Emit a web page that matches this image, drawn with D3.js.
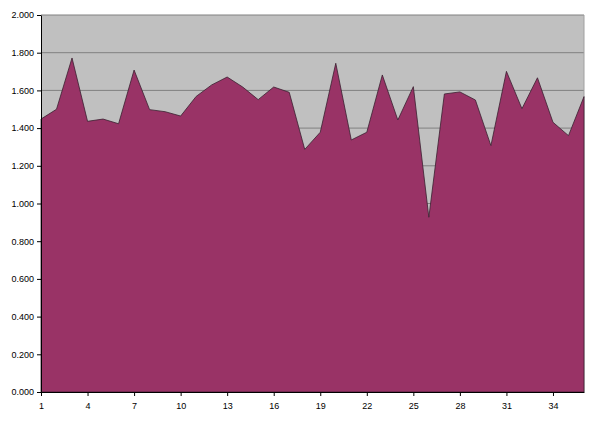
<!DOCTYPE html>
<html>
<head>
<meta charset="utf-8">
<title>Area chart</title>
<script src="https://d3js.org/d3.v7.min.js"></script>
<style>
  body { margin: 0; background: #fff; }
  .axis text { font-family: "Liberation Sans", Arial, sans-serif; font-size: 9px; fill: #000; }
  .axis path, .axis line { stroke: #000; }
</style>
</head>
<body>
<script>
var categories = d3.range(1, 37);
var values = [1.448, 1.500, 1.772, 1.436, 1.448, 1.423, 1.708, 1.498, 1.487, 1.464,
              1.568, 1.629, 1.671, 1.618, 1.551, 1.618, 1.590, 1.287, 1.378, 1.744,
              1.337, 1.378, 1.682, 1.443, 1.620, 0.927, 1.581, 1.592, 1.549, 1.307,
              1.701, 1.503, 1.667, 1.431, 1.360, 1.567];
var yTicks = [0, 0.2, 0.4, 0.6, 0.8, 1.0, 1.2, 1.4, 1.6, 1.8, 2.0];
var xTicks = [1, 4, 7, 10, 13, 16, 19, 22, 25, 28, 31, 34];

var width = 600, height = 422;
var margin = {left: 41, right: 16, top: 15, bottom: 30};
var w = width - margin.left - margin.right;
var h = height - margin.top - margin.bottom;

var svg = d3.select('body').append('svg')
  .attr('width', width).attr('height', height);
var g = svg.append('g')
  .attr('transform', 'translate(' + margin.left + ',' + margin.top + ')');

var x = d3.scaleLinear().domain([1, 36]).range([0, w]);
var y = d3.scaleLinear().domain([0, 2]).range([h, 0]);

// plot background
g.append('rect').attr('width', w).attr('height', h).attr('fill', '#c0c0c0');

// gridlines
g.selectAll('.grid').data(yTicks.slice(1)).enter().append('line')
  .attr('x1', 0).attr('x2', w)
  .attr('y1', function(d){ return y(d); })
  .attr('y2', function(d){ return y(d); })
  .attr('stroke', '#808080').attr('stroke-width', 1);

// right border
g.append('line').attr('x1', w).attr('x2', w).attr('y1', 0).attr('y2', h)
  .attr('stroke', '#a0a0a0');

// area
var area = d3.area()
  .x(function(d, i){ return x(categories[i]); })
  .y0(y(0))
  .y1(function(d){ return y(d); });
g.append('path').datum(values)
  .attr('d', area)
  .attr('fill', '#993366')
  .attr('stroke', '#3a2030')
  .attr('stroke-width', 0.8);

// axes
g.append('g').attr('class', 'axis')
  .call(d3.axisLeft(y).tickValues(yTicks).tickFormat(d3.format('.3f')).tickSize(4).tickSizeOuter(0))
  .call(function(s){ s.select('.domain').attr('stroke', '#404040'); });

g.append('g').attr('class', 'axis')
  .attr('transform', 'translate(0,' + h + ')')
  .call(d3.axisBottom(x).tickValues(xTicks).tickFormat(d3.format('d')).tickSize(4).tickSizeOuter(0).tickPadding(7));
</script>
</body>
</html>
